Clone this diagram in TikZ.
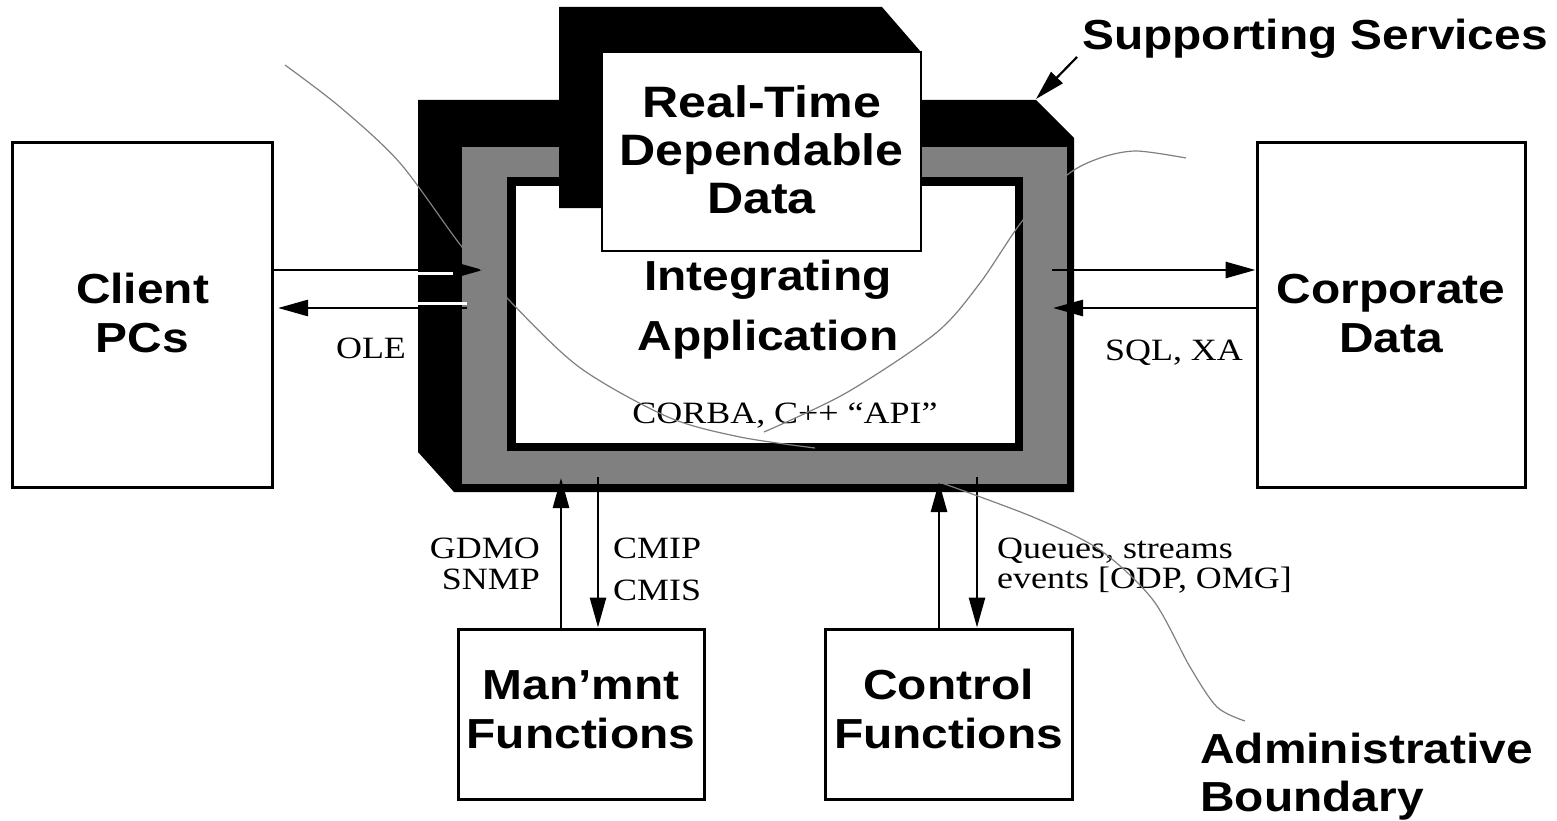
\documentclass[tikz,border=0pt]{standalone}
\usepackage{fontspec}
\setmainfont{Liberation Serif}[FakeStretch=1.16]
\newfontfamily\hv{Liberation Sans}[FakeStretch=1.14]
\usetikzlibrary{arrows.meta}
\tikzset{
  big/.style={font=\hv\bfseries\fontsize{42}{49}\selectfont, align=center, inner sep=0pt, text height=30pt},
  lab/.style={font=\fontsize{31}{31}\selectfont, inner sep=0pt},
  box/.style={draw, line width=3pt, fill=white, inner sep=0pt},
  arr/.style={line width=2.7pt, -{Triangle[length=30pt,width=16pt]}},
  bound/.style={draw=black!50, line width=1.2pt},
}
\begin{document}
\begin{tikzpicture}[x=1pt,y=-1pt]
\useasboundingbox (0,0) rectangle (1557,821);
% --- supporting services 3D frame ---
\fill[black] (418,100) -- (1036,100) -- (1074,138) -- (1074,492) -- (454,492) -- (418,452) -- cycle;
\fill[black!50] (462,147) rectangle (1067,484);
\fill[black] (507,177) rectangle (1023,451);
\fill[white] (516,186) rectangle (1015,443);
\fill[black] (559,7) -- (882,7) -- (921,52) -- (921,251) -- (602,251) -- (602,208) -- (559,208) -- cycle;
\node[box, line width=2pt, minimum width=319pt, minimum height=199pt, big, font=\hv\bfseries\fontsize{44}{48}\selectfont, text height=127.5pt, text depth=4.5pt] (rtd) at (761.5,151.5) {Real-Time\\Dependable\\Data};
\node[big, font=\hv\bfseries\fontsize{42}{60}\selectfont, text height=90pt, text depth=0pt] (app) at (768,305) {Integrating\\Application};
% --- outer boxes ---
\node[box, minimum width=260pt, minimum height=344pt, big, text height=79pt, text depth=5pt] (client) at (142.5,315) {Client\\PCs};
\node[box, minimum width=268pt, minimum height=344pt, big, text height=79pt, text depth=5pt] (corp) at (1391,315) {Corporate\\Data};
\node[box, minimum width=246pt, minimum height=170pt, big, text height=79pt, text depth=11pt] (mgmt) at (581,714) {Man’mnt\\Functions};
\node[box, minimum width=247pt, minimum height=170pt, big, text height=79pt, text depth=11pt] (ctrl) at (948.5,714) {Control\\Functions};
% --- end points inside the frame ---
\coordinate (oleIn) at (483,270);
\coordinate (oleOut) at (467,308);
\coordinate (sqlOut) at (1052,270);
\coordinate (sqlIn) at (1053,308);
\coordinate (gdmoIn) at (561,478);
\coordinate (cmipOut) at (598,477);
\coordinate (qIn) at (939,482);
\coordinate (qOut) at (977,477);
\coordinate (ssTail) at (1077,57);
\coordinate (ssTip) at (1036,99);
% --- white halos over the black face ---
\draw[white, line width=3pt] (418,273.5) -- (455,273.5);
\draw[white, line width=3pt] (418,303.5) -- (467,303.5);
% --- connectors ---
\draw[arr] (client.east |- oleIn) -- (oleIn);
\draw[arr, shorten >=4pt] (oleOut) -- (client.east |- oleOut);
\draw[arr] (sqlOut) -- (corp.west |- sqlOut);
\draw[arr] (corp.west |- sqlIn) -- (sqlIn);
\draw[arr] (mgmt.north -| gdmoIn) -- (gdmoIn);
\draw[arr] (cmipOut) -- (mgmt.north -| cmipOut);
\draw[arr] (ctrl.north -| qIn) -- (qIn);
\draw[arr] (qOut) -- (ctrl.north -| qOut);
\draw[arr, line width=2.2pt] (ssTail) -- (ssTip);
% --- labels ---
\node[lab, anchor=base] (ole) at (371,358) {OLE};
\node[lab, anchor=base] (sql) at (1174,360) {SQL, XA};
\node[lab, anchor=base] (corba) at (785,423) {CORBA, C++ “API”};
\node[lab, font=\fontsize{31}{31}\selectfont, align=right, anchor=north east, text height=51pt] (gdmo) at (540,538) {GDMO\\SNMP};
\node[lab, font=\fontsize{31}{42}\selectfont, align=left, anchor=north west, text height=62pt] (cmip) at (613,538) {CMIP\\CMIS};
\node[lab, font=\fontsize{31}{30}\selectfont, align=left, anchor=north west, text height=50pt] (queues) at (997,538) {Queues, streams\\events [ODP, OMG]};
\node[big, anchor=base west] (ss) at (1082,50) {Supporting Services};
\node[big, font=\hv\bfseries\fontsize{42}{48}\selectfont, align=left, anchor=north west, text height=78pt] (adm) at (1200,733) {Administrative\\Boundary};
% --- administrative boundary curves ---
\draw[bound] plot[smooth] coordinates {(285,65) (340,107) (400,163) (462,247) (507,298) (579,367) (668,417) (740,437) (815,448)};
\draw[bound] plot[smooth] coordinates {(764,432) (846,393) (936,333) (980,283) (1023,220) (1067,175) (1100,158) (1136,151) (1186,158)};
\draw[bound] plot[smooth] coordinates {(939,482) (1033,517) (1100,550) (1153,600) (1190,667) (1217,707) (1245,721)};
\end{tikzpicture}
\end{document}
